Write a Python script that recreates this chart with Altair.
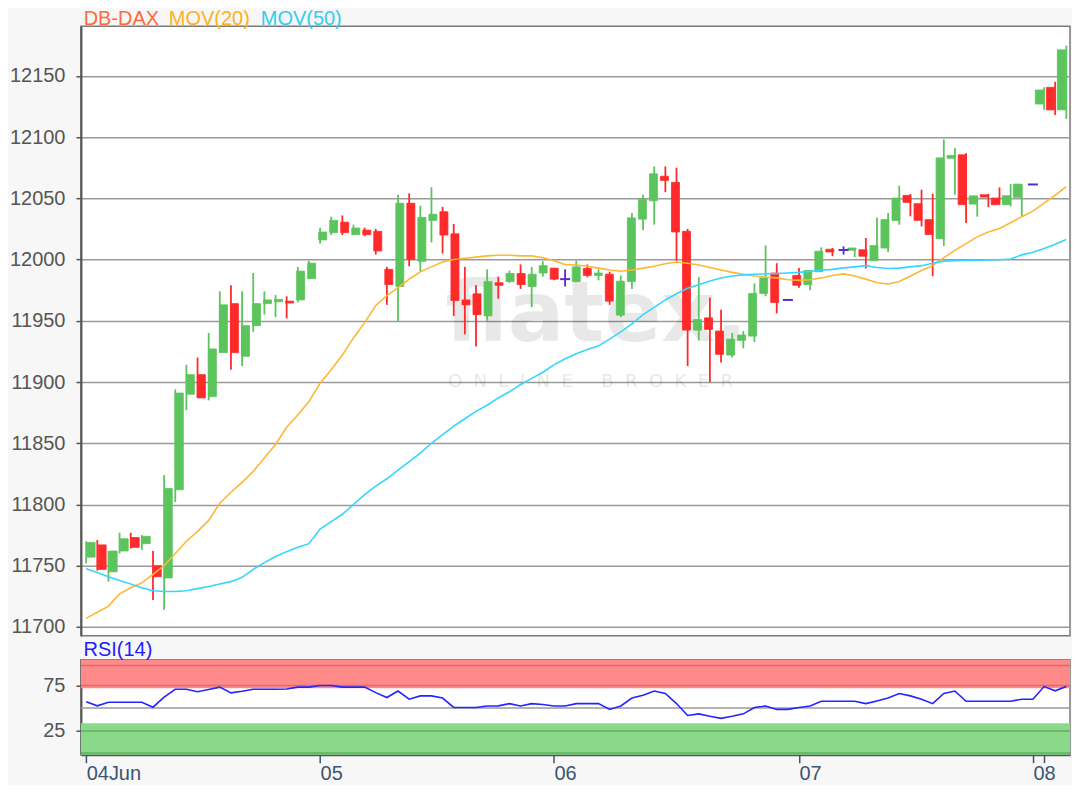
import altair as alt
import pandas as pd
import numpy as np

# ---------------- data ----------------
opens = [11757, 11767, 11745, 11762, 11773, 11768, 11750, 11740, 11812, 11890,
         11906, 11888, 11924, 11964, 11921, 11946, 11964, 11965.5, 11966, 11967,
         11984.5, 12016, 12022, 12030.5, 12020.4, 12024, 12023, 11992, 11978, 12046,
         11998.6, 12032, 12039, 12021, 11967, 11972, 11954, 11981, 11982, 11988.6,
         11978, 11989, 11993, 11984, 11982, 11992.7, 11987, 11988, 11954.6, 11982,
         12033, 12048, 12068, 12063, 12023, 11942.4, 11952.4, 11941.6, 11922, 11934,
         11937.5, 11972.3, 11989, 11967, 11987, 11979.6, 11990, 12008.4, 12007.8, 12007.6,
         12008, 11999.2, 12009.4, 12031.8, 12052.4, 12045.6, 12032.6, 12017, 12082.7, 12085.5,
         12045.3, 12052.9, 12050.2, 12044.8, 12050.8, 12061.3, 12127, 12140.6, 12122.2]
highs = [11770, 11771, 11762, 11777, 11777, 11775, 11762, 11824, 11894, 11914,
         11920, 11940, 11974, 11979, 11974, 11989, 11974, 11971, 11970, 11994,
         11999, 12026, 12035, 12036, 12028.5, 12026, 12025, 11994, 12053, 12054,
         12044, 12059, 12043, 12029, 11994, 11979, 11992, 11986, 11991, 11996,
         11994, 11998.6, 11993, 11992, 11999, 11996, 11992, 11990, 11987, 12038,
         12053, 12076, 12076, 12075, 12025, 11985.6, 11969, 11959, 11940, 11941.6,
         11980.5, 12011.6, 11997, 11967, 11993, 11991, 12010, 12009.4, 12010.8, 12009.4,
         12017.6, 12034.4, 12038, 12060.3, 12053.4, 12057, 12053.7, 12098, 12091, 12086.8,
         12052, 12053.7, 12058.9, 12061.6, 12061.6, 12061.3, 12140.6, 12145.2, 12174.7]
lows = [11752, 11746, 11737, 11760, 11764, 11763, 11722, 11714, 11802, 11877,
        11887, 11885, 11924, 11910, 11913, 11941, 11955, 11953, 11952, 11965,
        11984, 12013, 12020, 12020, 12020, 12019, 12004, 11963, 11949, 11994.5,
        11990.5, 12014, 12005, 11954, 11939, 11929, 11950, 11968, 11981, 11976,
        11961, 11986, 11983, 11978, 11981.5, 11985.6, 11983, 11963, 11953, 11976,
        12024, 12028.5, 12055, 11999, 11913, 11934, 11900, 11916, 11920, 11927.5,
        11932.7, 11970, 11956, 11967, 11977, 11975, 11990, 12002.7, 12004, 12002,
        11992.7, 11998.6, 12006, 12028.5, 12035.3, 12027, 11986.4, 12011, 12053, 12029.8,
        12035, 12042.8, 12044.8, 12043.4, 12035.3, 12061.3, 12122.2, 12118, 12114.8]
closes = [11769, 11747, 11762, 11772, 11765, 11774, 11741, 11813, 11891, 11906,
          11887, 11927, 11963, 11924, 11946, 11964, 11967, 11967.5, 11964.5, 11990.5,
          11997, 12022.5, 12032, 12022, 12025.7, 12020.4, 12007, 11979.6, 12046, 12000,
          12034.4, 12037, 12020, 11966.6, 11963, 11955, 11982, 11979, 11988.6, 11979.6,
          11988, 11995, 11984, 11984, 11994, 11987, 11989, 11966, 11982.3, 12034,
          12049, 12070, 12064.6, 12022.5, 11942.4, 11951, 11943, 11922.6, 11935, 11938.4,
          11972.3, 11985, 11965, 11967, 11979, 11991, 12006.8, 12006.2, 12007.8, 12009.4,
          12002.7, 12011.4, 12032.6, 12050.2, 12046.7, 12032, 12020.4, 12083, 12085, 12044.8,
          12052, 12051, 12044.8, 12052.1, 12061.6, 12061.3, 12138.4, 12122.2, 12171.2]
ma20 = [11707, 11712, 11717, 11727, 11732, 11736, 11743, 11750, 11760, 11770,
        11778, 11787, 11801, 11810, 11818, 11827, 11838, 11849, 11863, 11873,
        11884, 11899, 11910, 11922, 11936, 11948.5, 11962.5, 11970.5, 11977, 11984,
        11990, 11994, 11998, 12000, 12001, 12002, 12003, 12003.5, 12003.5, 12003,
        12003, 12001.5, 11999, 11996, 11995.5, 11994.5, 11993, 11991.5, 11990.5, 11991.5,
        11993, 11994.5, 11996.5, 11998, 11997, 11995.5, 11993.5, 11991.5, 11989.5, 11988,
        11986.5, 11985.5, 11985, 11983.5, 11983, 11983.5, 11985, 11987, 11988.3, 11986.5,
        11984, 11981, 11980, 11982, 11986.5, 11991, 11995, 12001.5, 12007.5, 12013,
        12018.5, 12022.5, 12025.3, 12030, 12035, 12039.5, 12046, 12052.5, 12059.5]
ma50 = [11747.5, 11744.5, 11741, 11738, 11735, 11732, 11729.5, 11729, 11729, 11729.5,
        11731.3, 11733, 11735, 11737, 11740.5, 11747, 11752.5, 11757.5, 11761.5, 11765,
        11768, 11780, 11786, 11792, 11800, 11808, 11815, 11821, 11828, 11835,
        11842, 11850, 11857, 11864, 11870, 11876, 11881, 11887, 11892, 11898,
        11903, 11908, 11914, 11919, 11923, 11926.5, 11929.5, 11935, 11941, 11947.5,
        11955, 11961, 11967, 11972, 11976.5, 11979.5, 11982.5, 11985, 11986.5, 11987.5,
        11988, 11988.2, 11988.6, 11989, 11989.5, 11990.5, 11991.3, 11992, 11993.2, 11994,
        11995, 11993.5, 11992.7, 11993, 11994, 11995, 11997, 11998.7, 11999, 11999.2,
        11999.4, 11999.6, 11999.8, 12000.5, 12003.8, 12006, 12009, 12012.5, 12016.3]
rsi = [57, 52.5, 56.5, 56.5, 56.5, 56.5, 51, 62, 70.6, 70.6,
       68, 70.5, 73, 66.7, 68.5, 70.6, 70.6, 70.6, 71, 73,
       73, 74.8, 74.8, 73, 73, 73, 67, 61.6, 68.7, 59.8,
       63.4, 63.4, 61, 50.7, 50.7, 50.7, 52.3, 52.5, 54.9, 52.3,
       54.9, 54, 52.3, 52.3, 54.9, 54.9, 54.9, 48.6, 52.3, 61,
       64, 68.7, 66, 55, 41.9, 43.7, 41, 38.8, 41, 43.7,
       50.7, 52.3, 48.6, 48.6, 50.7, 52.3, 57.5, 57.5, 57.5, 57.5,
       54.9, 57.9, 61, 66, 63.4, 59.8, 54.9, 66, 68.7, 57.5,
       57.5, 57.5, 57.5, 57.5, 59.8, 59.8, 73.6, 69, 73.6]

price_ticks = [11700, 11750, 11800, 11850, 11900, 11950, 12000, 12050, 12100, 12150]
rsi_ticks = [25, 75]
x_tick_idx = [0, 21, 42, 64, 85, 86]
x_tick_lbl = ["04Jun", "05", "06", "07", "08", ""]

title_words = ["DB-DAX", "MOV(20)", "MOV(50)"]
title_colors = ["#ff6a3d", "#ffb020", "#33ccf2"]
title_x = [2.7, 88, 180]
NB = "\u00a0"
watermark_big = "flatex."
watermark_small = (NB * 2).join("ONLINE") + NB * 5 + (NB * 2).join("BROKER")

band_lo = [71.7, -1]
band_hi = [103, 33.3]
band_col = ["#ff8a8a", "#8ad88a"]
rsi_rule_val = [96.8, 74.8, 50, 25, 0.7]
rsi_rule_col = ["#e06a6a", "#e06a6a", "#9a9a9a", "#5cb35c", "#5cb35c"]

# ---------------- styling ----------------
GREEN, RED, PURPLE = "#5cc45c", "#ff2a2a", "#5a2bd0"
FONT = "Liberation Sans"
W, H_MAIN, H_RSI = 990, 610, 95
EXT = 72

n = len(opens)
df = pd.DataFrame({"i": np.arange(n), "open": opens, "high": highs, "low": lows,
                   "close": closes, "ma20": ma20, "ma50": ma50, "rsi": rsi})
df["dir"] = np.where(df["close"] > df["open"], "up",
                     np.where(df["close"] < df["open"], "down", "doji"))

xscale = alt.Scale(domain=[-0.47, 88.33], nice=False, zero=False)
yscale = alt.Scale(domain=[11692.8, 12190.4], nice=False, zero=False)
cscale = alt.Scale(domain=["up", "down", "doji"], range=[GREEN, RED, PURPLE])

yaxis = alt.Axis(values=price_ticks, format="d", title=None, labelFontSize=20,
                 labelColor="#555555", labelFont=FONT, tickSize=5, tickColor="#555555",
                 tickWidth=1.5, grid=True, gridColor="#9a9a9a", gridWidth=1.5,
                 domainColor="#555555", domainWidth=2, labelPadding=11,
                 minExtent=EXT, maxExtent=EXT)


def X():
    return alt.X("i:Q", scale=xscale, axis=None)


def Yp(field):
    return alt.Y(field, type="quantitative", scale=yscale, axis=yaxis, title=None)


base = alt.Chart(df)

wm_big = alt.Chart(pd.DataFrame({"t": [watermark_big]})).mark_text(
    font="DejaVu Sans", fontWeight="bold", fontSize=84, color="#000000",
    opacity=0.085, align="center", baseline="alphabetic").encode(
    text="t:N", x=alt.value(516), y=alt.value(314.5))
wm_small = alt.Chart(pd.DataFrame({"t": [watermark_small]})).mark_text(
    font="DejaVu Sans", fontSize=18, color="#000000", opacity=0.09,
    align="center", baseline="alphabetic").encode(
    text="t:N", x=alt.value(510), y=alt.value(360.5))

wick = base.mark_rule(strokeWidth=1.8).encode(
    x=X(), y=Yp("low"), y2="high:Q",
    color=alt.Color("dir:N", scale=cscale, legend=None))
body = base.transform_filter("datum.dir != 'doji'").mark_bar(
    size=8, strokeWidth=0.8).encode(
    x=X(), y=Yp("open"), y2="close:Q",
    color=alt.Color("dir:N", scale=cscale, legend=None),
    stroke=alt.Stroke("dir:N", scale=cscale, legend=None))
doji = base.transform_filter("datum.dir == 'doji'").mark_tick(
    orient="horizontal", size=10, thickness=2, color=PURPLE, opacity=1).encode(
    x=X(), y=Yp("close"))
line20 = base.mark_line(color="#ffb733", strokeWidth=1.6).encode(x=X(), y=Yp("ma20"))
line50 = base.mark_line(color="#33d6ff", strokeWidth=1.6).encode(x=X(), y=Yp("ma50"))

tw = pd.DataFrame({"t": title_words, "c": title_colors, "x": title_x})
titles = alt.Chart(tw).mark_text(font=FONT, fontSize=20, align="left",
                                 baseline="alphabetic").encode(
    text="t:N", x=alt.X("x:Q", scale=alt.Scale(domain=[0, W], range=[0, W]), axis=None),
    y=alt.value(-1), color=alt.Color("c:N", scale=None))

main = alt.layer(wm_big, wm_small, wick, body, doji, line20, line50, titles).resolve_scale(
    x="independent").properties(width=W, height=H_MAIN)

# ---------------- RSI panel ----------------
rscale = alt.Scale(domain=[-1, 103], nice=False, zero=False)
raxis = alt.Axis(values=rsi_ticks, title=None, labelFontSize=20, labelColor="#555555",
                 labelFont=FONT, tickSize=5, tickColor="#555555", tickWidth=1.5,
                 grid=False, domainColor="#555555", domainWidth=2, labelPadding=11,
                 minExtent=EXT, maxExtent=EXT)

label_expr = " : ".join(
    f"datum.value == {v} ? '{l}'" for v, l in zip(x_tick_idx, x_tick_lbl)) + " : ''"
xaxis = alt.Axis(values=x_tick_idx, labelExpr=label_expr, title=None, labelFontSize=20,
                 labelFont=FONT, labelColor="#3b5570", labelAlign="left",
                 tickSize=8, tickColor="#3b5570", tickWidth=1.5, labelPadding=1,
                 domainColor="#555555", domainWidth=2, grid=False, labelFlush=False)

bands = pd.DataFrame({"lo": band_lo, "hi": band_hi, "c": band_col})
band_layer = alt.Chart(bands).mark_rect(opacity=1).encode(
    x=alt.value(0), x2=alt.value(W),
    y=alt.Y("lo:Q", scale=rscale, axis=raxis, title=None), y2="hi:Q",
    color=alt.Color("c:N", scale=None))
rules = pd.DataFrame({"v": rsi_rule_val, "c": rsi_rule_col})
rule_layer = alt.Chart(rules).mark_rule(strokeWidth=1.5).encode(
    x=alt.value(0), x2=alt.value(W),
    y=alt.Y("v:Q", scale=rscale, axis=raxis, title=None),
    color=alt.Color("c:N", scale=None))
rsi_line = base.mark_line(color="#2424ff", strokeWidth=1.6).encode(
    x=alt.X("i:Q", scale=xscale, axis=xaxis),
    y=alt.Y("rsi:Q", scale=rscale, axis=raxis, title=None))
rsi_lbl = alt.Chart(pd.DataFrame({"t": ["RSI(14)"]})).mark_text(
    font=FONT, fontSize=20, color="#2020ff", align="left", baseline="alphabetic").encode(
    text="t:N", x=alt.value(2.6), y=alt.value(-4))

rsi_panel = alt.layer(band_layer, rule_layer, rsi_line, rsi_lbl).properties(
    width=W, height=H_RSI)

chart = alt.vconcat(main, rsi_panel, spacing=1).properties(
    padding={"left": 0, "top": 0, "right": 0, "bottom": 0},
    background="#f7f7f7").configure(font=FONT).configure_view(
    fill="white", stroke="#7a7a7a", strokeWidth=1.5)

chart.save("out.html", embed_options={"renderer": "svg", "actions": False})
